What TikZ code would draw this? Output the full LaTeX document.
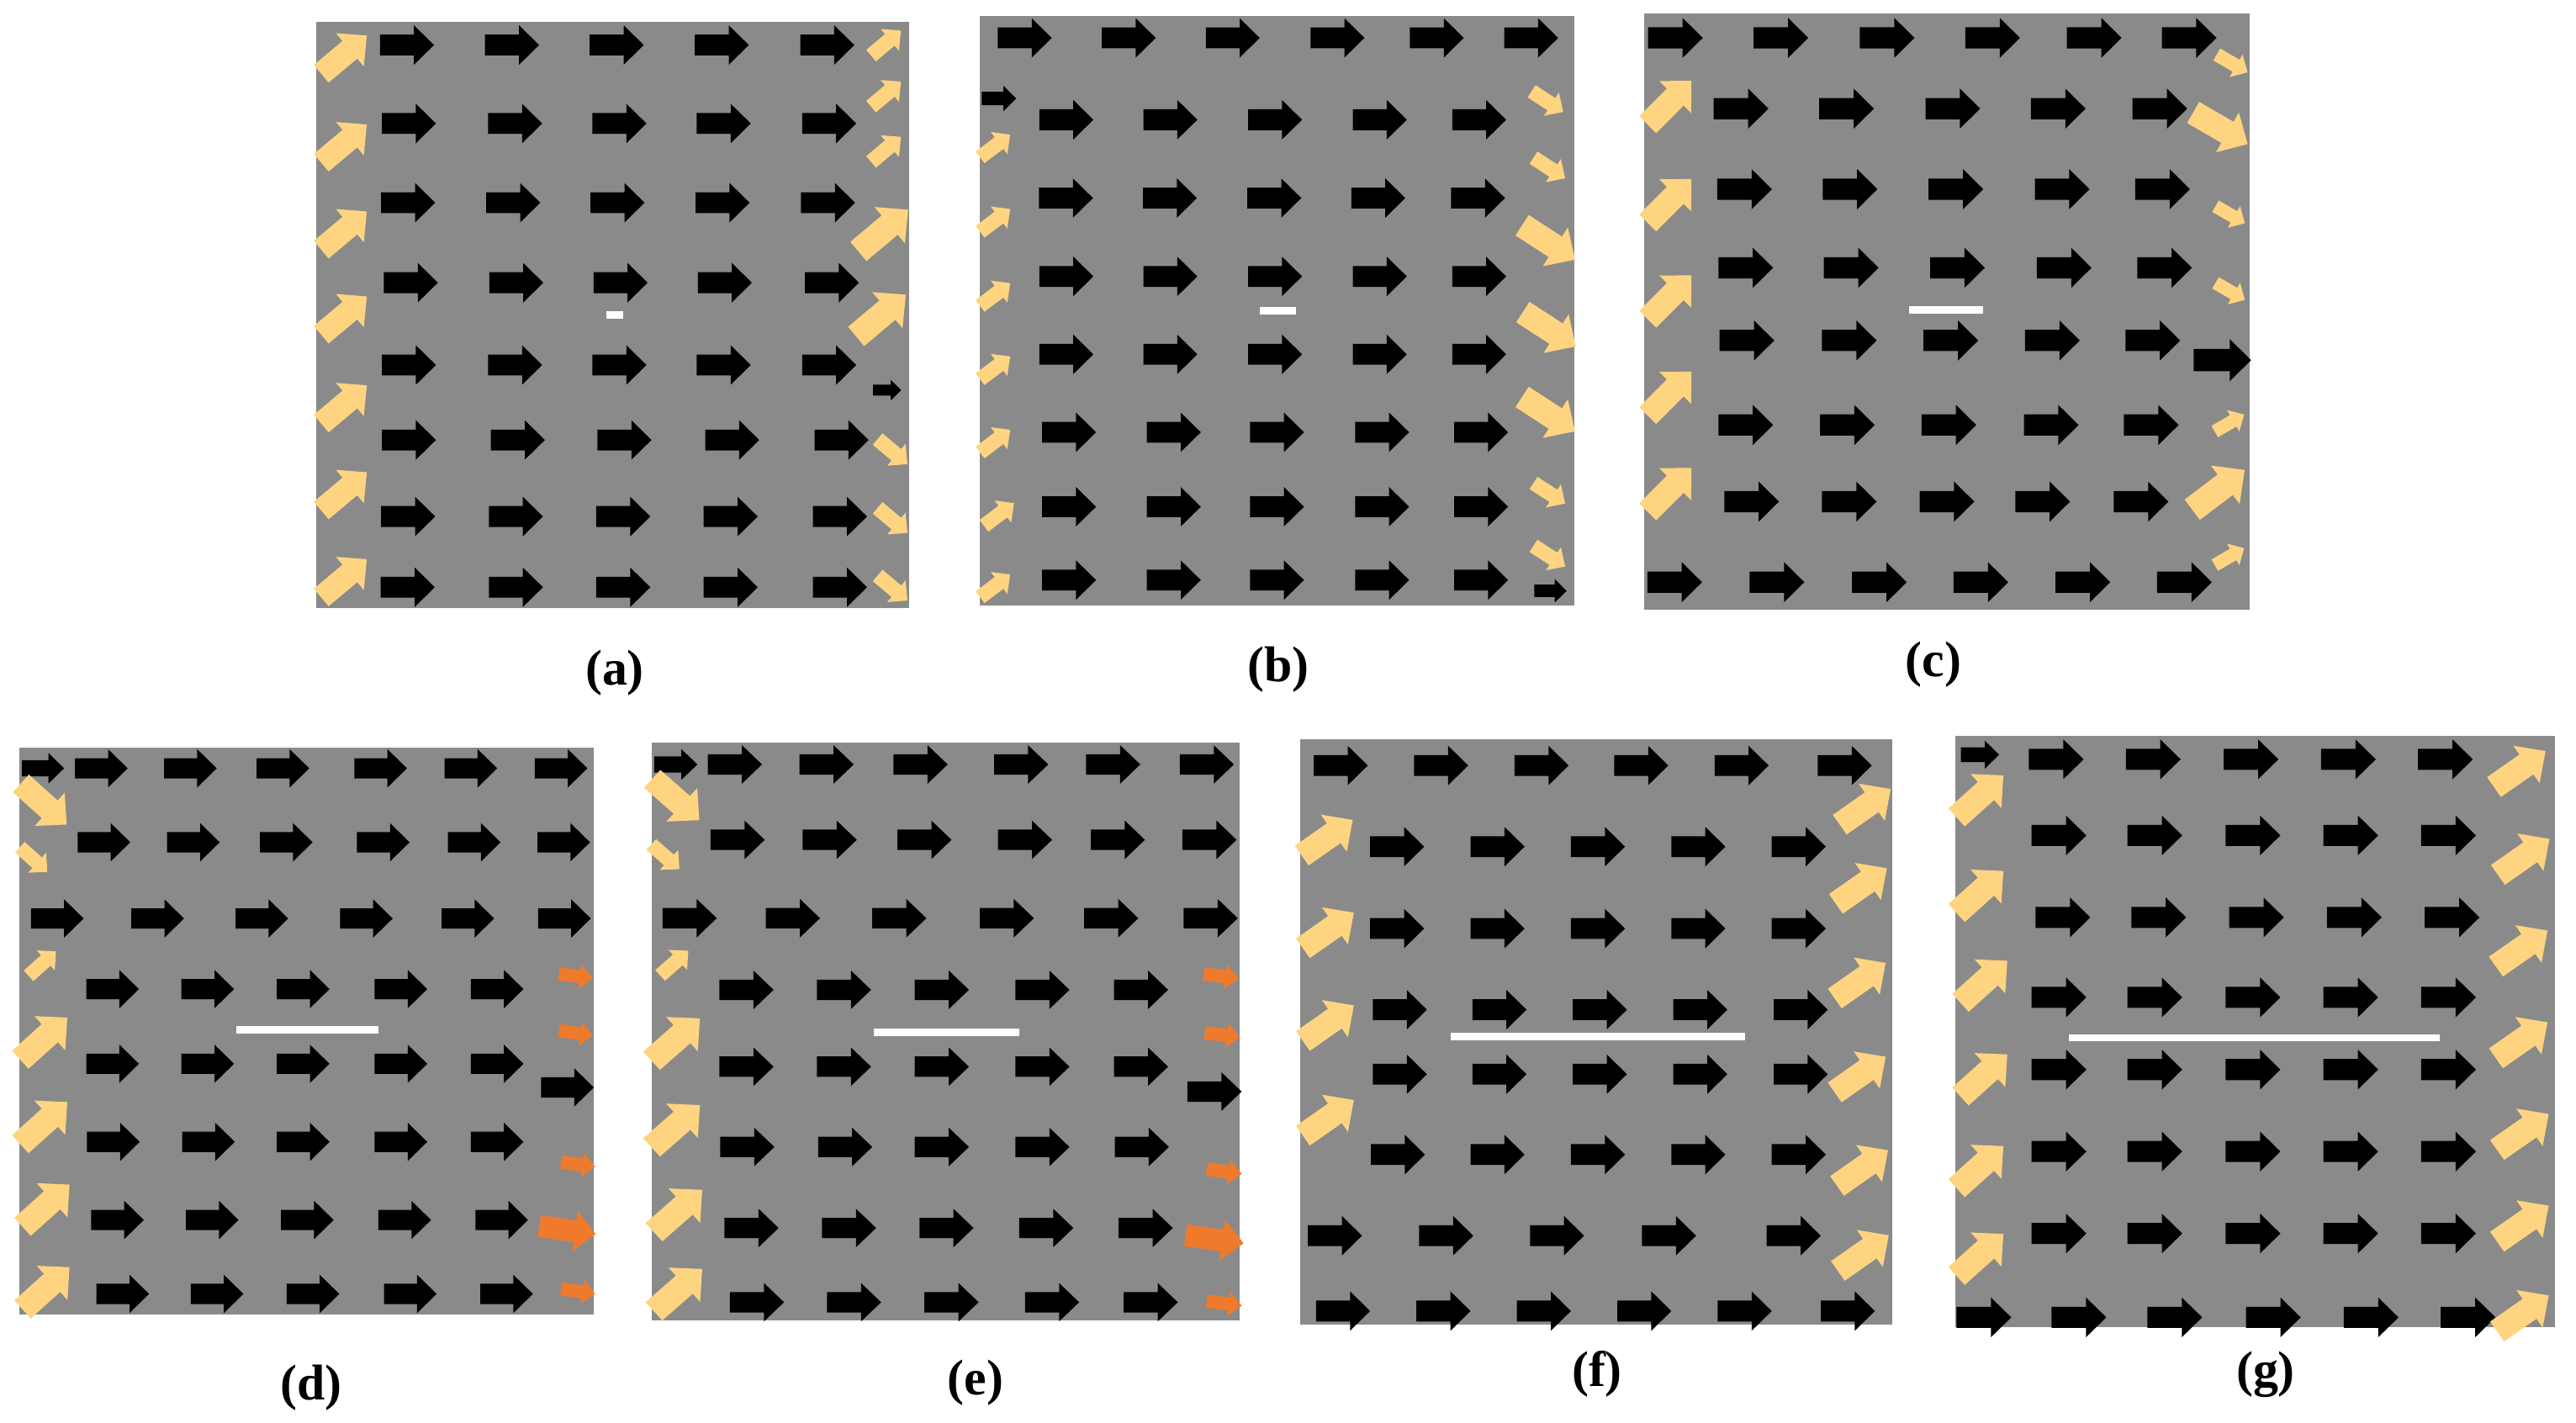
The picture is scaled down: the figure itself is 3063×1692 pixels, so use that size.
\documentclass[tikz,border=0pt]{standalone}
\usepackage{fontspec}
\newfontfamily\lblfont{Liberation Serif}
\definecolor{panelgray}{HTML}{8A8A8A}
\definecolor{arryel}{HTML}{FFD480}
\definecolor{arrorg}{HTML}{EF7A2C}
\tikzset{
  pics/barrow/.style={code={\fill[pic actions] (-70,-27) -- (18,-27) -- (18,-51) -- (70,0) -- (18,51) -- (18,27) -- (-70,27) -- cycle;}},
  panelbg/.style={fill=panelgray},
  crack/.style={fill=white},
  lbl/.style={font=\lblfont\bfseries\fontsize{17}{20}\selectfont, inner sep=0pt}
}
\newcommand\blkrow[2]{\foreach \xx in {#2}{\pic[transform shape,fill=black] at (\xx,#1) {barrow};}}
\newcommand\blkarr[3]{\pic[transform shape,fill=black,scale=#3] at (#1,#2) {barrow};}
\newcommand\yelarr[4]{\pic[transform shape,fill=arryel,rotate=#3,scale=#4] at (#1,#2) {barrow};}
\newcommand\orgarr[4]{\pic[transform shape,fill=arrorg,rotate=#3,scale=#4] at (#1,#2) {barrow};}
\begin{document}
\begin{tikzpicture}[x=0.01cm,y=-0.01cm]
\useasboundingbox[fill=white] (0,0) rectangle (3063,1692);

% ---------------- (a)
\begin{scope}[shift={(371.4,19.1)},xscale=0.4593,yscale=0.4595]
\fill[panelbg] (10,15) rectangle (1545,1532);
\blkrow{75}{245,517,788,1060,1333}
\blkrow{278}{250,525,795,1065,1338}
\blkrow{483}{248,520,790,1062,1335}
\blkrow{690}{255,528,798,1068,1345}
\blkrow{903}{250,525,795,1065,1338}
\blkrow{1097}{250,532,808,1087,1370}
\blkrow{1295}{248,527,805,1083,1366}
\blkrow{1478}{247,527,805,1083,1366}
\foreach \yy in {100,330,555,775,1005,1230,1455}{\yelarr{82}{\yy}{40}{1.1}}
\yelarr{1485}{70}{40}{0.72}
\yelarr{1485}{202}{40}{0.72}
\yelarr{1485}{345}{40}{0.72}
\yelarr{1478}{555}{40}{1.2}
\yelarr{1472}{775}{40}{1.2}
\blkarr{1488}{968}{0.52}
\yelarr{1502}{1127}{-40}{0.72}
\yelarr{1502}{1305}{-40}{0.72}
\yelarr{1502}{1480}{-40}{0.72}
\fill[crack] (762,763) rectangle (805,783);
\end{scope}
\node[lbl] (la) at (731,800) {(a)};

% ---------------- (b)
\begin{scope}[shift={(1161.3,10.7)},xscale=0.4579,yscale=0.4588]
\fill[panelbg] (8,18) rectangle (1552,1546);
\blkrow{75}{125,395,665,937,1195,1440}
\blkarr{58}{232}{0.64}
\blkrow{287}{233,503,775,1047,1305}
\blkrow{490}{232,502,773,1043,1302}
\blkrow{693}{233,503,775,1047,1305}
\blkrow{895}{233,503,775,1047,1305}
\blkrow{1097}{240,512,780,1053,1310}
\blkrow{1290}{240,512,780,1053,1310}
\blkrow{1480}{240,512,780,1053,1310}
\foreach \xx/\yy in {48/355,48/548,48/740,48/930,48/1120,58/1310,48/1495}{\yelarr{\xx}{\yy}{37}{0.7}}
\yelarr{1482}{240}{-33}{0.7}
\yelarr{1487}{412}{-33}{0.7}
\yelarr{1485}{605}{-33}{1.17}
\yelarr{1487}{830}{-33}{1.17}
\yelarr{1485}{1050}{-33}{1.17}
\yelarr{1487}{1255}{-33}{0.7}
\yelarr{1487}{1418}{-33}{0.7}
\blkarr{1490}{1508}{0.6}
\fill[crack] (735,772) rectangle (830,792);
\end{scope}
\node[lbl] (lb) at (1520,796) {(b)};

% ---------------- (c)
\begin{scope}[shift={(1950.4,10.0)},xscale=0.4645,yscale=0.4673]
\fill[panelbg] (10,12) rectangle (1560,1530);
\blkrow{75}{90,360,632,902,1162,1405}
\blkrow{255}{258,528,800,1070,1330}
\blkrow{460}{267,537,808,1080,1337}
\blkrow{660}{270,540,812,1085,1342}
\blkrow{845}{273,535,795,1055,1312}
\blkrow{1060}{270,530,790,1052,1308}
\blkrow{1255}{285,535,785,1030,1282}
\blkrow{1460}{88,350,612,872,1133,1393}
\foreach \yy in {240,490,735,980,1225}{\yelarr{75}{\yy}{45}{1.13}}
\yelarr{1515}{140}{-30}{0.65}
\yelarr{1485}{305}{-30}{1.15}
\yelarr{1510}{525}{-30}{0.62}
\yelarr{1510}{720}{-30}{0.62}
\blkarr{1490}{895}{1.05}
\yelarr{1508}{1055}{30}{0.62}
\yelarr{1480}{1225}{37}{1.2}
\yelarr{1508}{1395}{30}{0.62}
\fill[crack] (688,757) rectangle (878,777);
\end{scope}
\node[lbl] (lc) at (2299,790) {(c)};

% ---------------- (d)
\begin{scope}[shift={(19.9,880.1)},xscale=0.4470,yscale=0.4464]
\fill[panelbg] (8,20) rectangle (1535,1530);
\blkarr{70}{75}{0.8}
\blkrow{75}{225,462,708,968,1208,1448}
\blkrow{272}{232,470,717,975,1217,1455}
\blkrow{475}{108,375,652,930,1200,1457}
\blkrow{663}{255,508,762,1022,1278}
\blkrow{862}{255,508,762,1022,1278}
\blkrow{1070}{257,510,762,1022,1278}
\blkrow{1278}{268,520,773,1032,1290}
\blkrow{1475}{282,533,788,1047,1303}
\blkarr{1465}{925}{1.0}
\yelarr{72}{170}{-42}{1.17}
\yelarr{45}{318}{-42}{0.7}
\yelarr{68}{595}{42}{0.7}
\foreach \xx/\yy in {72/795,72/1020,78/1240,78/1460}{\yelarr{\xx}{\yy}{42}{1.2}}
\orgarr{1487}{628}{-8}{0.65}
\orgarr{1487}{780}{-8}{0.65}
\orgarr{1493}{1130}{-8}{0.65}
\orgarr{1465}{1305}{-8}{1.08}
\orgarr{1493}{1468}{-8}{0.65}
\fill[crack] (585,762) rectangle (962,782);
\end{scope}
\node[lbl] (ld) at (370,1650) {(d)};

% ---------------- (e)
\begin{scope}[shift={(770.4,877.6)},xscale=0.4599,yscale=0.4481]
\fill[panelbg] (10,12) rectangle (1530,1545);
\blkarr{72}{70}{0.8}
\blkrow{70}{225,462,705,965,1203,1445}
\blkrow{270}{232,470,715,975,1215,1452}
\blkrow{478}{108,375,650,928,1198,1455}
\blkrow{668}{255,507,760,1020,1275}
\blkrow{872}{255,507,760,1020,1275}
\blkrow{1085}{257,510,760,1020,1277}
\blkrow{1300}{268,520,772,1030,1287}
\blkrow{1497}{282,533,785,1045,1300}
\blkarr{1465}{938}{1.0}
\yelarr{72}{163}{-42}{1.17}
\yelarr{45}{315}{-42}{0.7}
\yelarr{68}{597}{42}{0.7}
\foreach \xx/\yy in {72/800,72/1030,78/1255,78/1465}{\yelarr{\xx}{\yy}{42}{1.2}}
\orgarr{1482}{632}{-8}{0.65}
\orgarr{1485}{788}{-8}{0.65}
\orgarr{1490}{1150}{-8}{0.65}
\orgarr{1465}{1330}{-8}{1.08}
\orgarr{1490}{1500}{-8}{0.65}
\fill[crack] (585,770) rectangle (960,790);
\end{scope}
\node[lbl] (le) at (1160,1644) {(e)};

% ---------------- (f)
\begin{scope}[shift={(1540.5,869.8)},xscale=0.4592,yscale=0.4594]
\fill[panelbg] (12,20) rectangle (1545,1535);
\blkrow{88}{117,377,637,895,1155,1422}
\blkrow{298}{263,523,783,1043,1303}
\blkrow{510}{263,523,783,1043,1303}
\blkrow{720}{270,528,788,1048,1308}
\blkrow{887}{270,528,788,1048,1308}
\blkrow{1095}{265,523,783,1043,1303}
\blkrow{1305}{102,390,677,967,1290}
\blkrow{1500}{123,383,643,903,1163,1430}
\foreach \xx/\yy in {82/275,85/515,85/755,85/1000}{\yelarr{\xx}{\yy}{35}{1.15}}
\foreach \xx/\yy in {1475/195,1465/400,1462/645,1462/888,1468/1130,1470/1350}{\yelarr{\xx}{\yy}{35}{1.15}}
\fill[crack] (402,780) rectangle (1163,800);
\end{scope}
\node[lbl] (lf) at (1899,1634) {(f)};

% ---------------- (g)
\begin{scope}[shift={(2319.4,870.4)},xscale=0.4651,yscale=0.4640]
\fill[panelbg] (12,10) rectangle (1545,1525);
\blkarr{75}{58}{0.7}
\blkrow{70}{270,518,768,1017,1265}
\blkrow{265}{277,522,773,1023,1273}
\blkrow{475}{287,532,782,1032,1282}
\blkrow{680}{277,522,773,1023,1273}
\blkrow{865}{277,522,773,1023,1273}
\blkrow{1075}{277,522,773,1023,1273}
\blkrow{1285}{277,522,773,1023,1273}
\blkrow{1500}{85,328,573,825,1075,1323}
\foreach \xx/\yy in {75/165,75/410,85/640,85/880,75/1115,75/1340}{\yelarr{\xx}{\yy}{42}{1.15}}
\foreach \xx/\yy in {1455/95,1465/320,1460/555,1460/790,1463/1025,1463/1260,1463/1490}{\yelarr{\xx}{\yy}{35}{1.15}}
\fill[crack] (303,775) rectangle (1250,793);
\end{scope}
\node[lbl] (lg) at (2694,1634) {(g)};
\end{tikzpicture}
\end{document}
